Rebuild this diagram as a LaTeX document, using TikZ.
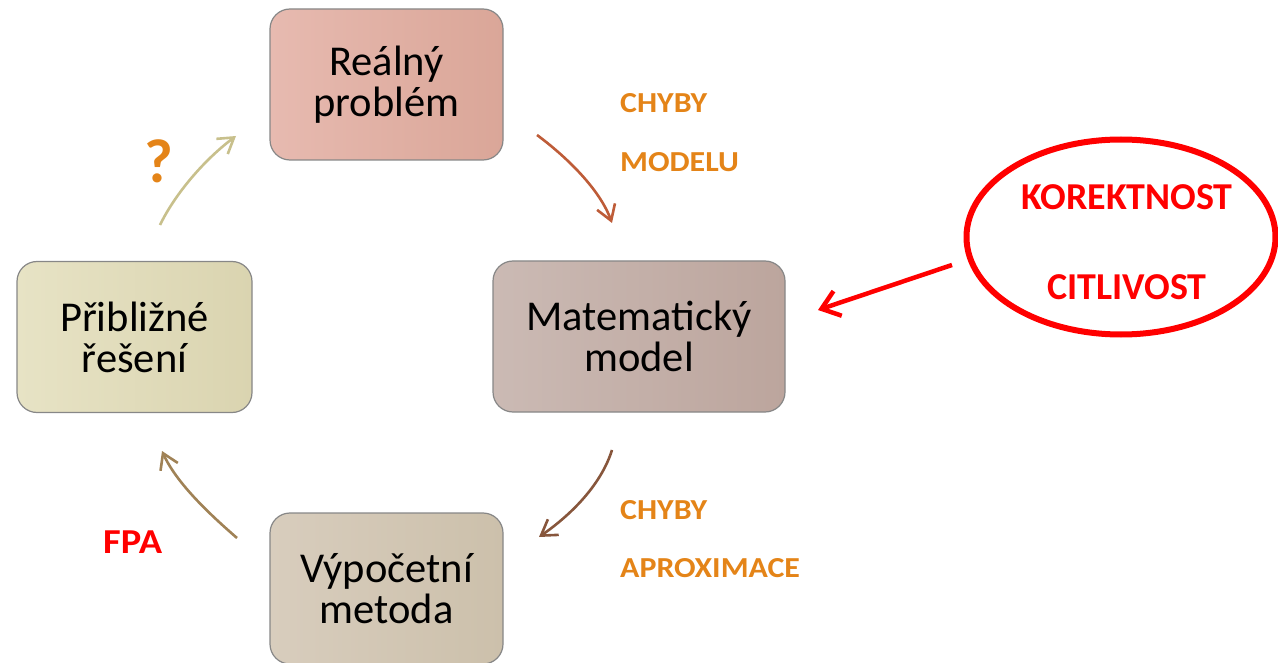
\documentclass[tikz,border=0pt]{standalone}
\usepackage{fontspec}
\setmainfont{Carlito}
\newfontfamily\widebold[FakeStretch=1.1]{Carlito Bold}
\usetikzlibrary{arrows.meta,shapes.geometric}

\definecolor{orangelab}{RGB}{228,132,24}
\definecolor{redlab}{RGB}{255,0,0}
\definecolor{boxline}{RGB}{135,135,135}
\definecolor{arrA}{RGB}{190,92,56}
\definecolor{arrB}{RGB}{135,86,60}
\definecolor{arrC}{RGB}{160,130,86}
\definecolor{arrD}{RGB}{200,192,140}

\tikzset{
  stagebox/.style={draw=boxline, line width=1.2pt, rounded corners=20pt,
    minimum height=151pt, align=center,
    font=\fontsize{42.5}{41}\selectfont},
  cyclearrow/.style={line width=2.6pt, -{Straight Barb[length=15pt,width=19pt]}},
  errlabel/.style={anchor=base west, text=orangelab,
    font=\widebold\fontsize{29}{29}\selectfont, inner sep=0pt},
  redlabel/.style={text=redlab, font=\bfseries\fontsize{38}{38}\selectfont, inner sep=0pt}
}

\begin{document}
\begin{tikzpicture}[x=1pt,y=-1pt]
\useasboundingbox (0,0) rectangle (1278,663);
\clip (0,0) rectangle (1278,663);

% the four stages of the cycle
\node[stagebox, minimum width=233pt, left color={rgb,255:red,231;green,186;blue,176},
      right color={rgb,255:red,218;green,166;blue,152}]
  (real) at (386.5,84.5) {Reálný\\problém};
\node[stagebox, minimum width=292pt, left color={rgb,255:red,203;green,186;blue,180},
      right color={rgb,255:red,188;green,165;blue,157}]
  (model) at (639,336.5) {Matematický\\model};
\node[stagebox, minimum width=235pt, left color={rgb,255:red,231;green,227;blue,197},
      right color={rgb,255:red,218;green,212;blue,176}]
  (approx) at (134.5,337) {Přibližné\\řešení};
\node[stagebox, minimum width=233pt, left color={rgb,255:red,216;green,205;blue,189},
      right color={rgb,255:red,204;green,192;blue,171}]
  (method) at (386.5,588.5) {Výpočetní\\metoda};

% arrow end points
\coordinate (a1) at (537,135);  \coordinate (a2) at (612,223);
\coordinate (b1) at (612,450);  \coordinate (b2) at (539,537);
\coordinate (c1) at (237,538);  \coordinate (c2) at (162,451);
\coordinate (d1) at (160,225);  \coordinate (d2) at (236,136);

\draw[cyclearrow, arrA] (a1) .. controls (568,158) and (600,190) .. (a2);
\draw[cyclearrow, arrB] (b1) .. controls (602,482) and (575,512) .. (b2);
\draw[cyclearrow, arrC] (c1) .. controls (207,512) and (176,482) .. (c2);
\draw[cyclearrow, arrD] (d1) .. controls (175,194) and (204,160) .. (d2);

% error sources
\node[errlabel] (chyby1) at (620,113) {CHYBY};
\node[errlabel] (modelu) at (620,172) {MODELU};
\node[errlabel] (chyby2) at (620,519) {CHYBY};
\node[errlabel] (aprox)  at (620,577) {APROXIMACE};

\node[anchor=base, text=orangelab, font=\bfseries\fontsize{62}{62}\selectfont, inner sep=0pt]
  (quest) at (159,183) {?};
\node[redlabel, anchor=base west, font=\widebold\fontsize{35}{35}\selectfont] (fpa) at (103,553) {FPA};

% well-posedness and conditioning
\node[draw=redlab, line width=6pt, ellipse, minimum width=309pt, minimum height=195pt]
  (wellposed) at (1121,237) {};
\node[redlabel, anchor=base] (korekt) at (1127,210) {KOREKTNOST};
\node[redlabel, anchor=base] (citliv) at (1127,300) {CITLIVOST};
\coordinate (r1) at (952,265);
\draw[redlab, line width=4.5pt, -{Straight Barb[length=17pt,width=26pt]}] (r1) -- (818,310);
\end{tikzpicture}
\end{document}
